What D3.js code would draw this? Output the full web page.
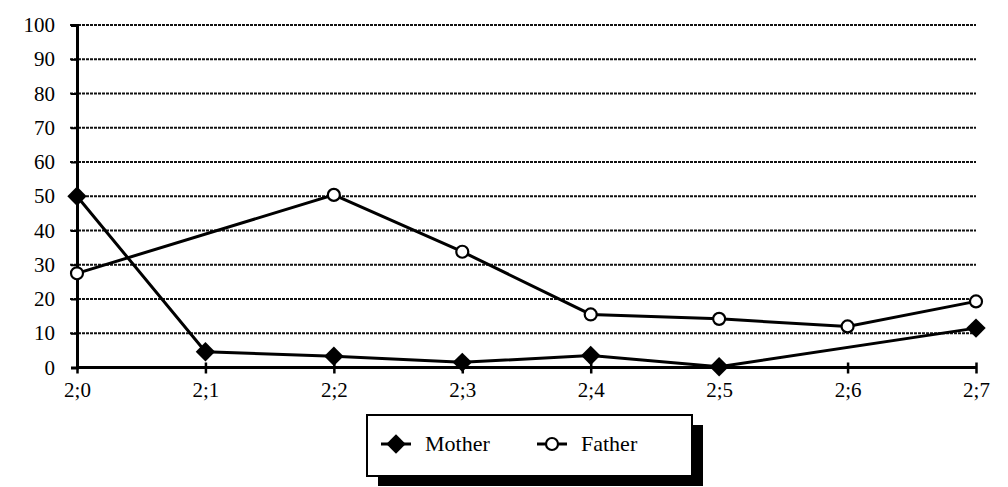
<!DOCTYPE html>
<html>
<head>
<meta charset="utf-8">
<script src="https://cdn.jsdelivr.net/npm/d3@7"></script>
<style>
  body { margin: 0; background: #fff; }
</style>
</head>
<body>
<div id="chart"></div>
<script>
const ages = ["2;0", "2;1", "2;2", "2;3", "2;4", "2;5", "2;6", "2;7"];
// null = no point recorded; line is drawn straight across it
const mother = [50, 4.6, 3.3, 1.5, 3.5, 0.2, null, 11.5];
const father = [27.5, null, 50.4, 33.8, 15.5, 14.2, 12, 19.3];
const yTicks = [0, 10, 20, 30, 40, 50, 60, 70, 80, 90, 100];

const width = 1008;
const height = 487;
const serif = "Liberation Serif, DejaVu Serif, serif";

const svg = d3.select("#chart")
    .append("svg")
    .attr("width", width)
    .attr("height", height)
    .attr("font-family", serif);

const x = d3.scalePoint()
    .domain(ages)
    .range([77, 976]);

const y = d3.scaleLinear()
    .domain([0, 100])
    .range([367.5, 25]);

// gridlines
svg.append("g")
    .selectAll("line")
    .data(yTicks.filter(d => d > 0))
    .enter()
    .append("line")
    .attr("x1", 70)
    .attr("x2", 976)
    .attr("y1", d => y(d))
    .attr("y2", d => y(d))
    .attr("stroke", "#111")
    .attr("stroke-width", 2.2)
    .attr("stroke-dasharray", "3,1");

// y axis
const yAxis = d3.axisLeft(y)
    .tickValues(yTicks)
    .tickSize(6)
    .tickPadding(16);
const gy = svg.append("g")
    .attr("transform", "translate(77,0)")
    .call(yAxis)
    .attr("font-family", serif)
    .attr("font-size", 21);
gy.select(".domain").attr("stroke", "#000").attr("stroke-width", 3);
gy.selectAll(".tick line").attr("stroke", "#000").attr("stroke-width", 2);
gy.selectAll(".tick text")
    .attr("font-family", serif)
    .attr("font-size", 21)
    .attr("fill", "#000");

// x axis
const xAxis = d3.axisBottom(x)
    .tickSize(6)
    .tickPadding(9);
const gx = svg.append("g")
    .attr("transform", "translate(0," + y(0) + ")")
    .call(xAxis)
    .attr("font-family", serif)
    .attr("font-size", 21);
gx.select(".domain").attr("stroke", "#000").attr("stroke-width", 3)
    .attr("d", "M77,0H976");
gx.selectAll(".tick line")
    .attr("stroke", "#000")
    .attr("stroke-width", 2.5)
    .attr("y1", -5);
gx.selectAll(".tick text")
    .attr("font-family", serif)
    .attr("font-size", 21)
    .attr("fill", "#000");

function seriesPoints(vals) {
    return vals
        .map((v, i) => ({ age: ages[i], v: v }))
        .filter(d => d.v !== null);
}

const line = d3.line()
    .x(d => x(d.age))
    .y(d => y(d.v));

const motherPts = seriesPoints(mother);
const fatherPts = seriesPoints(father);

svg.append("path")
    .datum(fatherPts)
    .attr("d", line)
    .attr("fill", "none")
    .attr("stroke", "#000")
    .attr("stroke-width", 3);

svg.append("path")
    .datum(motherPts)
    .attr("d", line)
    .attr("fill", "none")
    .attr("stroke", "#000")
    .attr("stroke-width", 3);

const diamond = d3.symbol().type(d3.symbolDiamond2).size(240);

svg.append("g")
    .selectAll("path")
    .data(motherPts)
    .enter()
    .append("path")
    .attr("d", diamond)
    .attr("transform", d => "translate(" + x(d.age) + "," + y(d.v) + ")")
    .attr("fill", "#000");

svg.append("g")
    .selectAll("circle")
    .data(fatherPts)
    .enter()
    .append("circle")
    .attr("cx", d => x(d.age))
    .attr("cy", d => y(d.v))
    .attr("r", 6)
    .attr("fill", "#fff")
    .attr("stroke", "#000")
    .attr("stroke-width", 2.2);

// legend
const legend = svg.append("g").attr("transform", "translate(367,415)");
legend.append("rect")
    .attr("x", 11).attr("y", 10)
    .attr("width", 325).attr("height", 61)
    .attr("fill", "#000");
legend.append("rect")
    .attr("x", 0).attr("y", 0)
    .attr("width", 325).attr("height", 61)
    .attr("fill", "#fff")
    .attr("stroke", "#000")
    .attr("stroke-width", 2);

legend.append("line")
    .attr("x1", 14).attr("x2", 44).attr("y1", 29).attr("y2", 29)
    .attr("stroke", "#000").attr("stroke-width", 3);
legend.append("path")
    .attr("d", diamond)
    .attr("transform", "translate(29,29)")
    .attr("fill", "#000");
legend.append("text")
    .attr("x", 58).attr("y", 36)
    .attr("font-size", 22)
    .text("Mother");

legend.append("line")
    .attr("x1", 170).attr("x2", 200).attr("y1", 29).attr("y2", 29)
    .attr("stroke", "#000").attr("stroke-width", 3);
legend.append("circle")
    .attr("cx", 185).attr("cy", 29).attr("r", 6)
    .attr("fill", "#fff").attr("stroke", "#000").attr("stroke-width", 2.2);
legend.append("text")
    .attr("x", 214).attr("y", 36)
    .attr("font-size", 22)
    .text("Father");
</script>
</body>
</html>
